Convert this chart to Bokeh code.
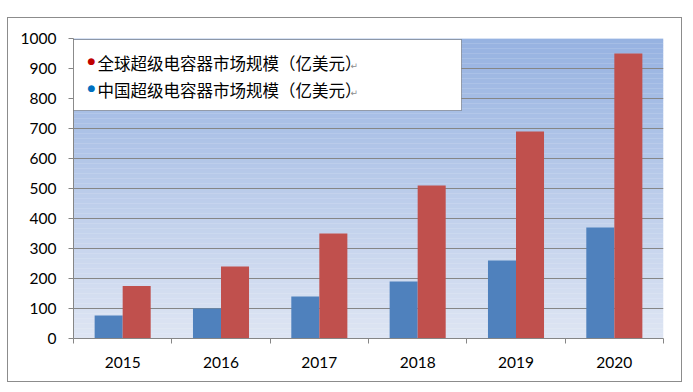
import numpy as np
from bokeh.plotting import figure
from bokeh.models import FixedTicker, Label, BoxAnnotation, Spacer
from bokeh.layouts import column, row
from bokeh.embed import file_html
from bokeh.resources import INLINE

years = ["2015", "2016", "2017", "2018", "2019", "2020"]
china = [77, 100, 140, 190, 260, 370]
world = [175, 240, 350, 510, 690, 950]
y_ticks = list(range(0, 1001, 100))
legend_labels = ["全球超级电容器市场规模（亿美元）", "中国超级电容器市场规模（亿美元）"]

BLUE = "#4f81bd"
RED = "#c0504d"
GRID = "#868686"

p = figure(width=675, height=365, x_range=(0, 6), y_range=(0, 1000),
           output_backend="svg", toolbar_location=None,
           min_border_left=65, min_border_right=20, min_border_top=20, min_border_bottom=45,
           background_fill_color="white", border_fill_color="white")
p.outline_line_color = None
p.styles = {"border": "1px solid #8c8c8c"}

# gradient background of the plot area
n = 120
edges = np.linspace(0, 1000, n + 1)
top_c = np.array([150, 178, 225])
bot_c = np.array([222, 229, 243])
cols = []
for i in range(n):
    t = (i + 0.5) / n
    c = bot_c + (top_c - bot_c) * t
    cols.append("#%02x%02x%02x" % tuple(int(round(v)) for v in c))
p.quad(left=0, right=6, bottom=edges[:-1], top=edges[1:] + 0.5, fill_color=cols,
       line_color=None, level="image")

centers = np.arange(len(years)) + 0.5
bw = 0.285
p.vbar(x=centers - bw / 2, top=china, width=bw, fill_color=BLUE, line_color=None)
p.vbar(x=centers + bw / 2, top=world, width=bw, fill_color=RED, line_color=None)

# axes
xa = p.xaxis[0]
xa.ticker = FixedTicker(ticks=list(centers), minor_ticks=list(range(0, len(years) + 1)))
xa.major_label_overrides = {float(c): y for c, y in zip(centers, years)}
xa.major_tick_line_color = None
xa.minor_tick_line_color = GRID
xa.minor_tick_in = 0
xa.minor_tick_out = 5
xa.axis_line_color = GRID
xa.major_label_standoff = 12
xa.major_label_text_font = "Lato"
xa.major_label_text_font_size = "15.5px"
xa.major_label_text_color = "black"

ya = p.yaxis[0]
ya.ticker = FixedTicker(ticks=y_ticks)
ya.minor_tick_line_color = None
ya.major_tick_line_color = GRID
ya.major_tick_in = 0
ya.major_tick_out = 5
ya.axis_line_color = GRID
ya.major_label_standoff = 12
ya.major_label_text_font = "Lato"
ya.major_label_text_font_size = "15.5px"
ya.major_label_text_color = "black"

p.xgrid.grid_line_color = None
p.ygrid.ticker = FixedTicker(ticks=y_ticks)
p.ygrid.grid_line_color = GRID
p.ygrid.grid_line_width = 1

# legend box
p.add_layout(BoxAnnotation(left=0, right=388, top=299, bottom=228,
                           left_units="screen", right_units="screen",
                           top_units="screen", bottom_units="screen",
                           fill_color="white", fill_alpha=1.0,
                           line_color="black", line_width=1, level="overlay"))
dot_colors = ["#c00000", "#0070c0"]
rows_y = [276, 249]
for lab, dc, yy in zip(legend_labels, dot_colors, rows_y):
    p.add_layout(Label(x=18, y=yy + 2, x_units="screen", y_units="screen", text="●",
                       text_color=dc, text_font="DejaVu Sans", text_font_size="9px",
                       text_align="center", text_baseline="middle", level="overlay"))
    p.add_layout(Label(x=24, y=yy, x_units="screen", y_units="screen", text=lab,
                       text_color="black", text_font="Noto Sans CJK SC",
                       text_font_size="16.5px", text_baseline="middle", level="overlay"))
    p.add_layout(Label(x=277, y=yy - 3, x_units="screen", y_units="screen", text="↵",
                       text_color="#8c8c8c", text_font="DejaVu Sans",
                       text_font_size="9px", text_baseline="middle", level="overlay"))

layout = column(Spacer(height=17, width=10), row(Spacer(width=7, height=10), p))
open("out.html", "w").write(file_html(layout, INLINE))
